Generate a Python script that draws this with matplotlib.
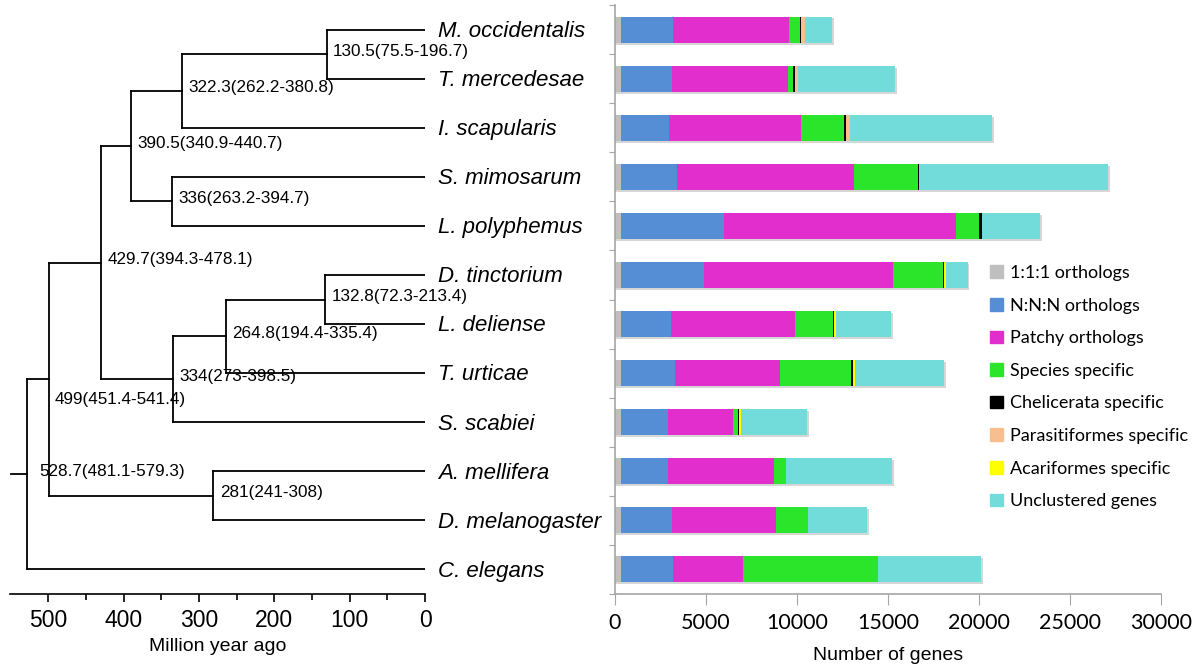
import numpy as np
import matplotlib
matplotlib.use("Agg")
import matplotlib.pyplot as plt
from matplotlib.patches import Patch

plt.rcParams['font.family'] = ['Liberation Sans', 'DejaVu Sans']

# species, top to bottom
species = ['M. occidentalis', 'T. mercedesae', 'I. scapularis', 'S. mimosarum',
           'L. polyphemus', 'D. tinctorium', 'L. deliense', 'T. urticae',
           'S. scabiei', 'A. mellifera', 'D. melanogaster', 'C. elegans']

# tree nodes: divergence time (Ma), label, children (int = leaf, 'nK' = node K)
node_age = [130.5, 322.3, 336, 390.5, 132.8, 264.8, 334, 429.7, 281, 499, 528.7]
node_label = ['130.5(75.5-196.7)', '322.3(262.2-380.8)', '336(263.2-394.7)',
              '390.5(340.9-440.7)', '132.8(72.3-213.4)', '264.8(194.4-335.4)',
              '334(273-398.5)', '429.7(394.3-478.1)', '281(241-308)',
              '499(451.4-541.4)', '528.7(481.1-579.3)']
node_children = [(0, 1), ('n0', 2), (3, 4), ('n1', 'n2'), (5, 6), ('n4', 7),
                 ('n5', 8), ('n3', 'n6'), (9, 10), ('n7', 'n8'), ('n9', 11)]

# gene counts per category
categories = ['1:1:1 orthologs', 'N:N:N orthologs', 'Patchy orthologs',
              'Species specific', 'Chelicerata specific', 'Parasitiformes specific',
              'Acariformes specific', 'Unclustered genes']
one_to_one = [350, 350, 350, 350, 350, 350, 350, 350, 350, 350, 350, 350]
n_to_n = [2850, 2760, 2640, 3040, 5640, 4520, 2710, 2960, 2550, 2550, 2800, 2850]
patchy = [6360, 6380, 7210, 9730, 12730, 10420, 6850, 5770, 3580, 5840, 5680, 3830]
species_spec = [610, 310, 2370, 3550, 1300, 2750, 2050, 3900, 260, 640, 1790, 7440]
chelicerata = [60, 90, 110, 50, 130, 60, 90, 80, 90, 0, 0, 0]
parasitiformes = [200, 170, 220, 0, 0, 0, 0, 0, 0, 0, 0, 0]
acariformes = [0, 0, 0, 0, 0, 90, 90, 130, 90, 0, 0, 0]
unclustered = [1520, 5330, 7820, 10370, 3210, 1190, 3030, 4910, 3650, 5850, 3230, 5640]

colors = ['#bfbfbf', '#558ed5', '#e12ecd', '#2ae52a', '#000000', '#f9be8e',
          '#ffff00', '#72dcda']

W, H = 1201, 666
fig = plt.figure(figsize=(W / 100, H / 100), dpi=100)


def px_axes(x0, y0, x1, y1):
    return fig.add_axes([x0 / W, 1 - y1 / H, (x1 - x0) / W, (y1 - y0) / H])


# ---------------- tree ----------------
ax = px_axes(10, 5, 425, 594)
ax.set_xlim(551, 0)
ax.set_ylim(11.5, -0.5)

pos = {}
for k, (a, b) in enumerate(node_children):
    pts = []
    for c in (a, b):
        if isinstance(c, int):
            cx, cy = 0, c
        else:
            cx, cy = pos[c]
        ax.plot([node_age[k], cx], [cy, cy], color='black', lw=1.3,
                solid_capstyle='projecting')
        pts.append(cy)
    ax.plot([node_age[k], node_age[k]], pts, color='black', lw=1.3,
            solid_capstyle='projecting')
    pos['n%d' % k] = (node_age[k], np.mean(pts))

root_x, root_y = pos['n%d' % (len(node_age) - 1)]
ax.plot([550, root_x], [root_y, root_y], color='black', lw=1.3)

# node labels
for k, lab in enumerate(node_label):
    x, y = pos['n%d' % k]
    dx, dy = 8.5, -0.06
    if lab.startswith('499'):
        dx, dy = 7, 0.42
    if lab.startswith('528.7'):
        dx = 16
    ax.text(x - dx, y + dy, lab, fontsize=12.3, va='center', ha='left')

for i, sp in enumerate(species):
    ax.text(-17, i + 0.15, sp, fontsize=16, style='italic', va='baseline',
            ha='left', clip_on=False)

for s in ['top', 'right', 'left']:
    ax.spines[s].set_visible(False)
ax.spines['bottom'].set_linewidth(1.2)
ax.set_yticks([])
ax.set_xticks(np.arange(0, 501, 100))
ax.set_xticks(np.arange(50, 501, 100), minor=True)
ax.tick_params(axis='x', which='major', length=6, width=1.2, labelsize=16.5, pad=5)
ax.tick_params(axis='x', which='minor', length=4, width=1.2)
ax.set_xlabel('Million year ago', fontsize=14, labelpad=4)

# ---------------- stacked bars ----------------
bx = px_axes(615, 5, 1161, 594)
data = [one_to_one, n_to_n, patchy, species_spec, chelicerata, parasitiformes,
        acariformes, unclustered]
y = np.arange(len(species))
totals = np.sum(data, axis=0)
bx.barh(y + 0.04, totals + 90, height=0.53, color='#d6d6d6', zorder=1)
left = np.zeros(len(species))
for vals, col, lab in zip(data, colors, categories):
    bx.barh(y, vals, left=left, height=0.53, color=col, label=lab, zorder=2)
    left += np.array(vals)

bx.set_xlim(0, 30000)
bx.set_ylim(11.5, -0.5)
bx.set_yticks(np.arange(-0.5, 12, 1))
bx.set_yticklabels([])
bx.set_xticks(np.arange(0, 30001, 5000))
for s in ['top', 'right']:
    bx.spines[s].set_visible(False)
for s in ['left', 'bottom']:
    bx.spines[s].set_color('#a6a6a6')
    bx.spines[s].set_linewidth(1.2)
bx.tick_params(axis='y', length=4, color='#a6a6a6')
bx.tick_params(axis='x', length=8, color='#a6a6a6', labelsize=15.5, pad=6)
for t in bx.get_xticklabels():
    t.set_family(['Lato', 'DejaVu Sans'])
bx.set_xlabel('Number of genes', fontsize=14, labelpad=10)

handles = [Patch(color=c, label=l) for c, l in zip(colors, categories)]
fig.legend(handles=handles, loc='upper left', bbox_to_anchor=(990 / W, 1 - 265 / H),
           frameon=False, borderpad=0, borderaxespad=0, handlelength=0.7,
           handleheight=0.7, handletextpad=0.4, labelspacing=0.92,
           prop={'family': ['Lato', 'DejaVu Sans'], 'size': 13})

fig.savefig('out.png', dpi=100)
